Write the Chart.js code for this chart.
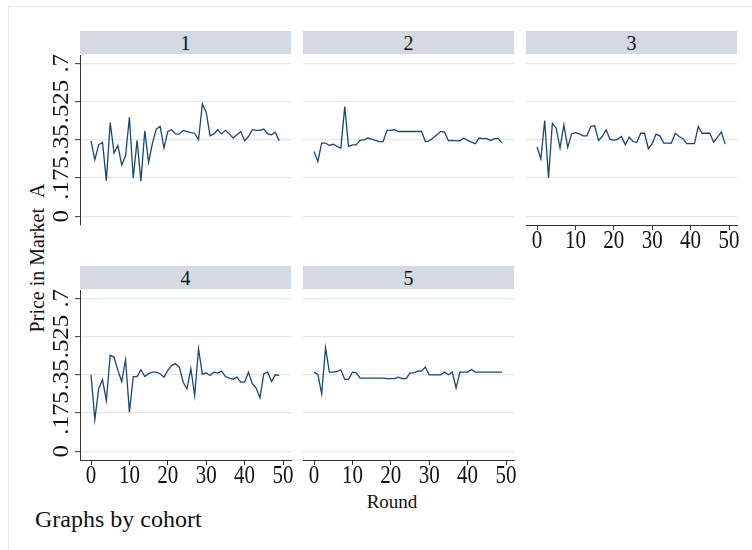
<!DOCTYPE html>
<html><head><meta charset="utf-8">
<script src="https://cdn.jsdelivr.net/npm/chart.js@4"></script>
<style>
html,body{margin:0;padding:0;background:#fff;}
body{width:752px;height:550px;overflow:hidden;position:relative;font-family:"Liberation Serif","DejaVu Serif",serif;color:#111;}
.frame{position:absolute;left:8px;top:6px;width:800px;height:600px;border:1px solid #e3e8ee;}
.strip{position:absolute;height:23px;background:#d3dae4;text-align:center;font-size:20px;line-height:25px;color:#111;}
canvas{position:absolute;}
.t{position:absolute;white-space:nowrap;line-height:1;}
</style></head><body>
<div class="frame"></div>
<div class="t" style="left:37px;top:258px;transform:translate(-50%,-50%) rotate(-90deg);font-size:20px;">Price in Market<span style="padding-left:6px"> A</span></div>
<div class="t" style="left:392px;top:492px;transform:translateX(-50%);font-size:19px;">Round</div>
<div class="t" style="left:35px;top:507px;font-size:24px;">Graphs by cohort</div>
<script>
// ---- data ----
const panelTitles = ["1", "2", "3", "4", "5"];
const rounds = [0,1,2,3,4,5,6,7,8,9,10,11,12,13,14,15,16,17,18,19,20,21,22,23,24,25,26,27,28,29,30,31,32,33,34,35,36,37,38,39,40,41,42,43,44,45,46,47,48,49];
const cohort1 = [0.345,0.259,0.327,0.338,0.163,0.429,0.289,0.324,0.234,0.277,
                 0.453,0.175,0.347,0.160,0.391,0.247,0.335,0.399,0.411,0.312,
                 0.388,0.396,0.377,0.376,0.393,0.387,0.383,0.380,0.350,0.514,
                 0.476,0.368,0.377,0.396,0.377,0.393,0.377,0.358,0.373,0.388,
                 0.345,0.365,0.396,0.393,0.393,0.399,0.377,0.373,0.385,0.345];
const cohort2 = [0.297,0.251,0.335,0.335,0.324,0.330,0.320,0.312,0.502,0.320,
                 0.327,0.327,0.347,0.350,0.358,0.353,0.347,0.342,0.342,0.393,
                 0.393,0.396,0.388,0.388,0.388,0.388,0.388,0.388,0.388,0.342,
                 0.345,0.358,0.373,0.388,0.385,0.345,0.347,0.345,0.345,0.358,
                 0.347,0.339,0.332,0.358,0.355,0.355,0.347,0.355,0.355,0.335];
const cohort3 = [0.317,0.263,0.438,0.175,0.426,0.403,0.312,0.418,0.315,0.377,
                 0.383,0.377,0.368,0.368,0.411,0.415,0.347,0.365,0.396,0.353,
                 0.347,0.353,0.365,0.327,0.362,0.342,0.338,0.380,0.380,0.309,
                 0.332,0.376,0.368,0.335,0.335,0.335,0.380,0.365,0.355,0.332,
                 0.332,0.332,0.411,0.380,0.380,0.380,0.339,0.362,0.385,0.330];
const cohort4 = [0.350,0.145,0.286,0.327,0.232,0.439,0.431,0.370,0.319,0.419,
                 0.179,0.342,0.342,0.373,0.342,0.355,0.362,0.362,0.355,0.339,
                 0.370,0.393,0.400,0.385,0.316,0.286,0.378,0.255,0.469,0.352,
                 0.359,0.347,0.362,0.358,0.367,0.342,0.335,0.329,0.339,0.316,
                 0.316,0.362,0.309,0.289,0.245,0.355,0.362,0.319,0.350,0.347];
const cohort5 = [0.362,0.352,0.263,0.474,0.362,0.362,0.365,0.373,0.329,0.329,
                 0.362,0.359,0.335,0.335,0.335,0.335,0.335,0.335,0.335,0.332,
                 0.332,0.332,0.339,0.332,0.332,0.359,0.359,0.367,0.367,0.385,
                 0.350,0.350,0.350,0.350,0.362,0.350,0.362,0.290,0.362,0.362,
                 0.362,0.374,0.362,0.362,0.362,0.362,0.362,0.362,0.362,0.362];
const xTicks = [0,10,20,30,40,50];
const xTickLabels = ["0","10","20","30","40","50"];
const yTicks = [0,0.175,0.35,0.525,0.7];
const yTickLabels = ["0",".175",".35",".525",".7"];

const series = [cohort1, cohort2, cohort3, cohort4, cohort5];

// ---- layout ----
const panels = [
  {left:80,  top:55,  showY:true,  showX:false},
  {left:303, top:55,  showY:false, showX:false},
  {left:526, top:55,  showY:false, showX:true},
  {left:80,  top:290, showY:true,  showX:true},
  {left:303, top:290, showY:false, showX:true}
];
const PW = 211, PH = 170, L = 70, R = 12, T = 4, B = 40;
const xMin = -2.865, xMax = 52.08, yMin = -0.04, yMax = 0.738;
const lineColor = '#1a476f', gridColor = '#e2e8ee', axisColor = '#333';
const FONT = '"Liberation Serif", serif';

function labelPlugin(p){
  return {
    id: 'tickText',
    afterDraw(chart){
      const ctx = chart.ctx;
      ctx.save();
      ctx.fillStyle = '#111';
      ctx.font = '21px ' + FONT;
      ctx.textAlign = 'center';
      ctx.textBaseline = 'alphabetic';
      if (p.showX) {
        const xs = chart.scales.x;
        xTicks.forEach((v,i) => {
          ctx.save();
          ctx.translate(xs.getPixelForValue(v), xs.top + 23);
          ctx.scale(1, 1.2);
          ctx.fillText(xTickLabels[i], 0, 0);
          ctx.restore();
        });
      }
      if (p.showY) {
        const ys = chart.scales.y;
        yTicks.forEach((v,i) => {
          ctx.save();
          ctx.translate(ys.right - 12, ys.getPixelForValue(v));
          ctx.rotate(-Math.PI/2);
          ctx.scale(1.18, 1.1);
          ctx.fillText(yTickLabels[i], 0, 0);
          ctx.restore();
        });
      }
      ctx.restore();
    }
  };
}

panels.forEach((p,k) => {
  const s = document.createElement('div');
  s.className = 'strip';
  s.style.left = p.left + 'px';
  s.style.top = (p.top - 24) + 'px';
  s.style.width = PW + 'px';
  s.textContent = panelTitles[k];
  document.body.appendChild(s);

  const c = document.createElement('canvas');
  c.width = PW + L + R; c.height = PH + T + B;
  c.style.left = (p.left - L) + 'px';
  c.style.top = (p.top - T) + 'px';
  c.style.width = c.width + 'px';
  c.style.height = c.height + 'px';
  document.body.appendChild(c);

  new Chart(c, {
    type: 'line',
    data: {
      datasets: [{
        data: rounds.map((r,i) => ({x: r, y: series[k][i]})),
        borderColor: lineColor,
        borderWidth: 1.3,
        pointRadius: 0,
        tension: 0,
        fill: false
      }]
    },
    options: {
      responsive: false,
      animation: false,
      devicePixelRatio: 1,
      events: [],
      layout: {padding: {left: 0, right: R, top: T, bottom: 0}},
      plugins: {legend: {display: false}, tooltip: {enabled: false}},
      scales: {
        x: {
          type: 'linear', min: xMin, max: xMax,
          afterFit: sc => { sc.height = B; },
          afterBuildTicks: sc => { sc.ticks = xTicks.map(v => ({value: v})); },
          ticks: {display: false},
          border: {display: p.showX, color: axisColor, width: 1},
          grid: {display: p.showX, drawOnChartArea: false, drawTicks: true, tickLength: 5, tickColor: axisColor, tickWidth: 1}
        },
        y: {
          type: 'linear', min: yMin, max: yMax,
          afterFit: sc => { sc.width = L; },
          afterBuildTicks: sc => { sc.ticks = yTicks.map(v => ({value: v})); },
          ticks: {display: false},
          border: {display: p.showY, color: axisColor, width: 1},
          grid: {display: true, color: gridColor, lineWidth: 1.3, drawTicks: p.showY, tickLength: 5, tickColor: axisColor, tickWidth: 1}
        }
      }
    },
    plugins: [labelPlugin(p)]
  });
});
</script>
</body></html>
